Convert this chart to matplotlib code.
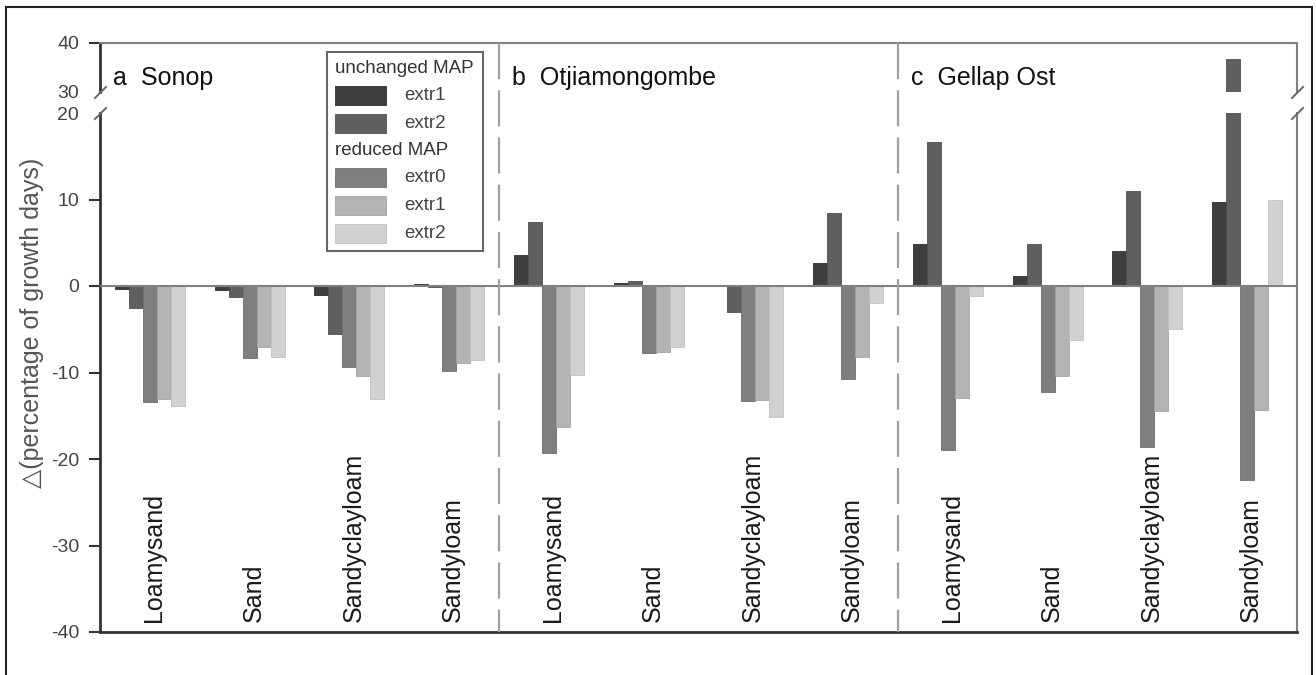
import matplotlib
matplotlib.use("Agg")
import matplotlib.pyplot as plt
import numpy as np
from matplotlib.patches import Rectangle
from matplotlib.lines import Line2D
from matplotlib.transforms import blended_transform_factory
from matplotlib.offsetbox import (AnchoredOffsetbox, VPacker, HPacker,
                                  TextArea, DrawingArea)

plt.rcParams["font.family"] = ["Liberation Sans", "DejaVu Sans"]
plt.rcParams["axes.unicode_minus"] = False
plt.rcParams["lines.scale_dashes"] = False

# ---------------------------------------------------------------- data
sites = ["a  Sonop", "b  Otjiamongombe", "c  Gellap Ost"]
soils = ["Loamysand", "Sand", "Sandyclayloam", "Sandyloam"]
series = ["extr1", "extr2", "extr0", "extr1", "extr2"]
groups = [("unchanged MAP", [0, 1]), ("reduced MAP", [2, 3, 4])]

# change of growth days (%) per soil; columns follow `series`
sonop = [
    [-0.3, -2.5, -13.4, -13.1, -13.9],
    [-0.5, -1.3, -8.3, -7.0, -8.2],
    [-1.0, -5.5, -9.4, -10.4, -13.1],
    [0.2, -0.1, -9.8, -8.9, -8.6],
]
otjiamongombe = [
    [3.6, 7.4, -19.3, -16.3, -10.3],
    [0.4, 0.6, -7.8, -7.6, -7.0],
    [0.1, -3.0, -13.3, -13.2, -15.2],
    [2.7, 8.4, -10.8, -8.2, -2.0],
]
gellap_ost = [
    [4.9, 16.6, -19.0, -13.0, -1.2],
    [1.2, 4.9, -12.2, -10.4, -6.3],
    [4.0, 11.0, -18.6, -14.4, -5.0],
    [9.7, 36.8, -22.4, -14.3, 10.0],
]
site_data = [sonop, otjiamongombe, gellap_ost]

colors = ["#3e3e40", "#5f5f61", "#7f7f81", "#b4b4b6", "#d1d1d3"]
edges = ["#2e2e30", "#4f4f51", "#6f6f71", "#a4a4a6", "#c1c1c3"]

upper_ticks = [30, 40]
lower_ticks = [-40, -30, -20, -10, 0, 10, 20]

# ---------------------------------------------------------------- layout
W, H = 1316, 675
fig = plt.figure(figsize=(W / 100, H / 100), dpi=100)
left, right = 100 / W, 1297 / W
ax_top = fig.add_axes([left, (H - 92) / H, right - left, 49 / H])
ax = fig.add_axes([left, (H - 632) / H, right - left, 519 / H])

n_soil = len(soils)
n_site = len(sites)
width = 0.14
offsets = (np.arange(len(series)) - (len(series) - 1) / 2) * width

for p, data in enumerate(site_data):
    vals = np.array(data)
    centers = p * n_soil + np.arange(n_soil) + 0.5
    for k in range(len(series)):
        for a in (ax, ax_top):
            a.bar(centers + offsets[k], vals[:, k], width,
                  color=colors[k], edgecolor=edges[k], linewidth=0.6,
                  zorder=2)

for a in (ax, ax_top):
    a.set_xlim(0, n_site * n_soil)
    a.set_xticks([])
    a.axhline(0, color="#808080", lw=1.5, zorder=3)
    a.tick_params(axis="y", direction="out", length=8, width=1.5,
                  color="#333333", labelsize=14, labelcolor="#444444", pad=7)

ax_top.set_ylim(30, 40)
ax.set_ylim(-40, 20)
ax_top.set_yticks(upper_ticks)
ax.set_yticks(lower_ticks)
ax_top.yaxis.get_major_ticks()[0].tick1line.set_visible(False)
ax.yaxis.get_major_ticks()[-1].tick1line.set_visible(False)

# spines
ax_top.spines["bottom"].set_visible(False)
ax.spines["top"].set_visible(False)
for a in (ax, ax_top):
    a.spines["left"].set_color("#333333")
    a.spines["left"].set_linewidth(2)
    a.spines["right"].set_color("#808080")
    a.spines["right"].set_linewidth(1.5)
ax_top.spines["top"].set_color("#808080")
ax_top.spines["top"].set_linewidth(1.5)
ax.spines["bottom"].set_color("#333333")
ax.spines["bottom"].set_linewidth(2)

# axis break marks
brk = dict(marker=[(-1, -1), (1, 1)], markersize=9, linestyle="none",
           color="#666666", mec="#666666", mew=1.4, clip_on=False, zorder=5)
ax_top.plot([0, 1], [0, 0], transform=ax_top.transAxes, **brk)
ax.plot([0, 1], [1, 1], transform=ax.transAxes, **brk)

# dashed separators between sites, spanning both axes
sep_tr = blended_transform_factory(ax.transData, fig.transFigure)
for p in range(1, n_site):
    xs = p * n_soil
    fig.add_artist(Line2D([xs, xs], [(H - 43) / H, (H - 632) / H],
                          transform=sep_tr, color="#a0a0a0", lw=1.6,
                          dashes=(26, 8)))

# site titles
tt = blended_transform_factory(ax_top.transData, ax_top.transAxes)
for p, name in enumerate(sites):
    ax_top.text(p * n_soil + 0.13, 0.14, name, transform=tt, fontsize=18,
                ha="left", va="baseline", color="#111111")

# soil labels inside the plot
st = blended_transform_factory(ax.transData, ax.transAxes)
for p in range(n_site):
    for i, soil in enumerate(soils):
        ax.text(p * n_soil + i + 0.5 + 0.04, 0.02, soil, transform=st,
                rotation=90, ha="center", va="bottom", fontsize=18,
                color="#1a1a1a")

# legend with two grouped headers
leg_size = 13.5
rows = []
for header, idx in groups:
    rows.append(TextArea(header, textprops=dict(size=leg_size,
                                                color="#333333")))
    for k in idx:
        da = DrawingArea(36.7, 13.7, 0, 0)
        da.add_artist(Rectangle((0, 0), 36.7, 13.7, facecolor=colors[k],
                                edgecolor=edges[k], linewidth=0.6))
        rows.append(HPacker(children=[da, TextArea(series[k], textprops=dict(
            size=leg_size, color="#444444"))], pad=0, sep=13, align="center"))
box = VPacker(children=rows, align="left", pad=0, sep=6.4)
leg = AnchoredOffsetbox(loc="upper left", child=box, pad=0.45, borderpad=0,
                        frameon=True, prop=dict(size=leg_size),
                        bbox_to_anchor=(327 / W, (H - 52) / H),
                        bbox_transform=fig.transFigure)
leg.patch.set_edgecolor("#666666")
leg.patch.set_linewidth(1.5)
leg.set_zorder(6)
ax.add_artist(leg)

# y axis title
fig.text(32 / W, 1 - 323 / H, "\u25b3(percentage of growth days)",
         rotation=90, ha="center", va="center", fontsize=18, color="#555555")

# outer frame
fig.add_artist(Rectangle((6 / W, -0.02), (1312 - 6) / W, (H - 7) / H + 0.02,
                         transform=fig.transFigure, fill=False,
                         edgecolor="#222222", linewidth=1.5))

fig.savefig("out.png", dpi=100)
